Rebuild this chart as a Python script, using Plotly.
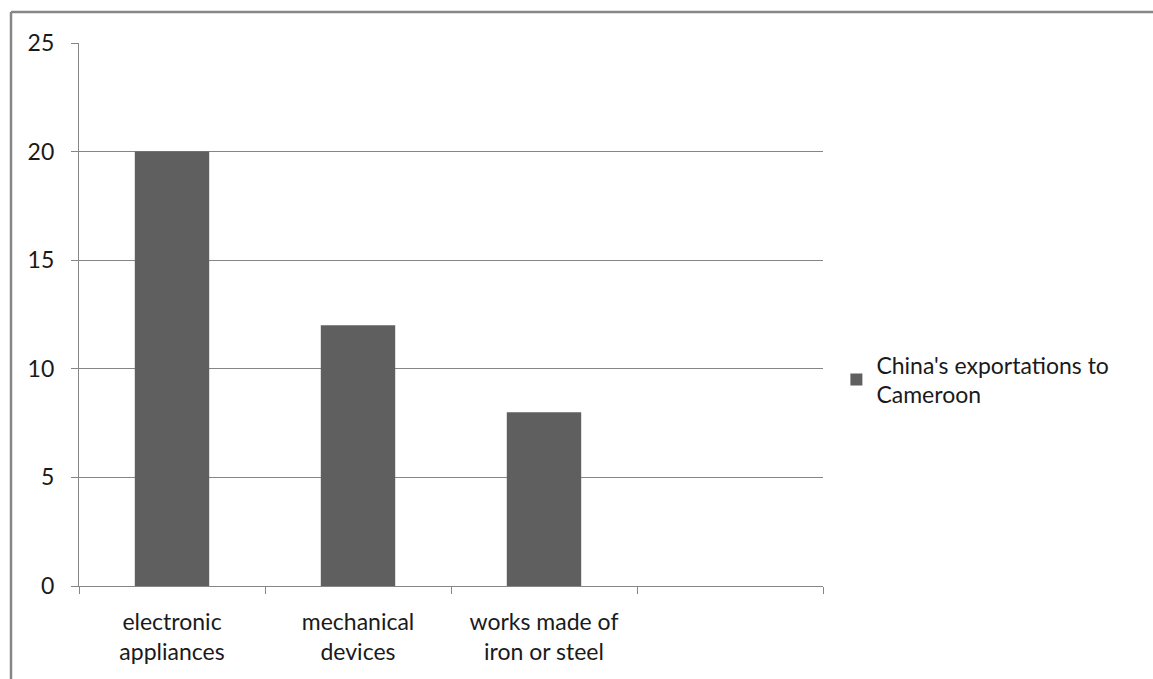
import plotly.graph_objects as go

categories = ["electronic<br>appliances", "mechanical<br>devices", "works made of<br>iron or steel", " "]
values = [20, 12, 8, None]
series_name = "China's exportations to<br>Cameroon"
y_ticks = [0, 5, 10, 15, 20, 25]

FONT = "Lato, Calibri, sans-serif"
GRAY = "#868686"
FS = 23

fig = go.Figure()
fig.add_trace(go.Bar(
    x=categories, y=values, name=series_name,
    marker=dict(color="#5f5f5f", line=dict(width=0)),
    width=0.4, showlegend=True,
))

fig.update_layout(
    width=1153, height=679,
    margin=dict(l=79, r=330, t=43, b=93),
    paper_bgcolor="white", plot_bgcolor="white",
    font=dict(family=FONT, size=FS, color="#1a1a1a"),
    showlegend=True,
    legend=dict(x=1.018, y=0.38, xanchor="left", yanchor="middle",
                font=dict(family=FONT, size=FS, color="#1a1a1a"),
                itemsizing="constant", tracegroupgap=0, bgcolor="rgba(0,0,0,0)"),
    bargap=0.6,
    shapes=[
        dict(type="line", xref="paper", yref="paper", x0=-0.0914, x1=1.6, y0=1.0571, y1=1.0571,
             line=dict(color=GRAY, width=2.5)),
        dict(type="line", xref="paper", yref="paper", x0=-0.0914, x1=-0.0914, y0=1.0571, y1=-0.3,
             line=dict(color=GRAY, width=2.5)),
    ],
)
fig.update_xaxes(
    type="category", tickson="boundaries", showgrid=False,
    showline=True, linecolor=GRAY, linewidth=1.2,
    ticks="outside", ticklen=7, tickcolor=GRAY, tickwidth=1.2,
    tickfont=dict(family=FONT, size=FS, color="#1a1a1a"),
    ticklabelstandoff=15,
    fixedrange=True,
)
fig.update_yaxes(
    range=[0, 25], tickvals=y_ticks, showgrid=True, gridcolor=GRAY, gridwidth=1.2,
    showline=True, linecolor=GRAY, linewidth=1.2,
    ticks="outside", ticklen=7, tickcolor=GRAY, tickwidth=1.2,
    tickfont=dict(family=FONT, size=FS, color="#1a1a1a"),
    ticklabelstandoff=12, zeroline=False,
)

fig.write_html("out.html")
